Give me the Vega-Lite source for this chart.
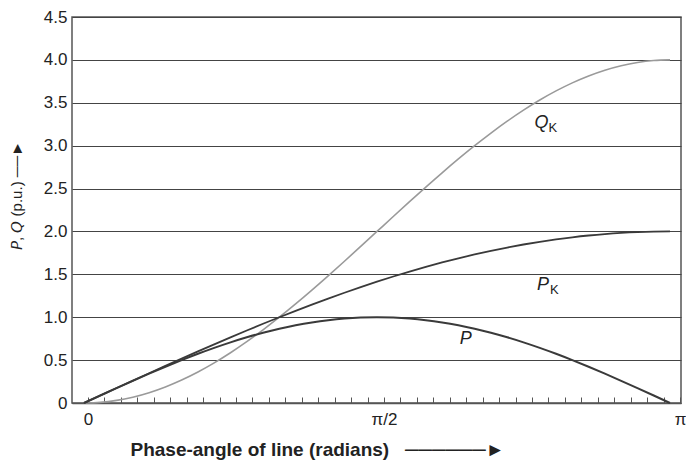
{
  "$schema": "https://vega.github.io/schema/vega-lite/v6.json",
  "width": 609,
  "height": 386,
  "autosize": {"type": "none"},
  "padding": {"left": 72, "top": 17, "right": 5, "bottom": 63},
  "background": "white",
  "config": {
    "view": {"stroke": "#555555", "strokeWidth": 1.5},
    "font": "Liberation Sans",
    "axis": {"labelFont": "Liberation Sans", "titleFont": "Liberation Sans", "labelColor": "#222222", "titleColor": "#222222"}
  },
  "datasets": {
    "curves": [
      {"d": 0, "P": 0, "PK": 0, "QK": 0},
      {"d": 5, "P": 0.0872, "PK": 0.0872, "QK": 0.0076},
      {"d": 10, "P": 0.1736, "PK": 0.1743, "QK": 0.0304},
      {"d": 15, "P": 0.2588, "PK": 0.2611, "QK": 0.0681},
      {"d": 20, "P": 0.342, "PK": 0.3473, "QK": 0.1206},
      {"d": 25, "P": 0.4226, "PK": 0.4329, "QK": 0.1874},
      {"d": 30, "P": 0.5, "PK": 0.5176, "QK": 0.2679},
      {"d": 35, "P": 0.5736, "PK": 0.6014, "QK": 0.3617},
      {"d": 40, "P": 0.6428, "PK": 0.684, "QK": 0.4679},
      {"d": 45, "P": 0.7071, "PK": 0.7654, "QK": 0.5858},
      {"d": 50, "P": 0.766, "PK": 0.8452, "QK": 0.7144},
      {"d": 55, "P": 0.8192, "PK": 0.9235, "QK": 0.8529},
      {"d": 60, "P": 0.866, "PK": 1.0, "QK": 1.0},
      {"d": 65, "P": 0.9063, "PK": 1.0746, "QK": 1.1548},
      {"d": 70, "P": 0.9397, "PK": 1.1472, "QK": 1.316},
      {"d": 75, "P": 0.9659, "PK": 1.2175, "QK": 1.4824},
      {"d": 80, "P": 0.9848, "PK": 1.2856, "QK": 1.6527},
      {"d": 85, "P": 0.9962, "PK": 1.3512, "QK": 1.8257},
      {"d": 90, "P": 1.0, "PK": 1.4142, "QK": 2.0},
      {"d": 95, "P": 0.9962, "PK": 1.4746, "QK": 2.1743},
      {"d": 100, "P": 0.9848, "PK": 1.5321, "QK": 2.3473},
      {"d": 105, "P": 0.9659, "PK": 1.5867, "QK": 2.5176},
      {"d": 110, "P": 0.9397, "PK": 1.6383, "QK": 2.684},
      {"d": 115, "P": 0.9063, "PK": 1.6868, "QK": 2.8452},
      {"d": 120, "P": 0.866, "PK": 1.7321, "QK": 3.0},
      {"d": 125, "P": 0.8192, "PK": 1.774, "QK": 3.1472},
      {"d": 130, "P": 0.766, "PK": 1.8126, "QK": 3.2856},
      {"d": 135, "P": 0.7071, "PK": 1.8478, "QK": 3.4142},
      {"d": 140, "P": 0.6428, "PK": 1.8794, "QK": 3.5321},
      {"d": 145, "P": 0.5736, "PK": 1.9074, "QK": 3.6383},
      {"d": 150, "P": 0.5, "PK": 1.9319, "QK": 3.7321},
      {"d": 155, "P": 0.4226, "PK": 1.9526, "QK": 3.8126},
      {"d": 160, "P": 0.342, "PK": 1.9696, "QK": 3.8794},
      {"d": 165, "P": 0.2588, "PK": 1.9829, "QK": 3.9319},
      {"d": 170, "P": 0.1736, "PK": 1.9924, "QK": 3.9696},
      {"d": 175, "P": 0.0872, "PK": 1.9981, "QK": 3.9924},
      {"d": 180, "P": 0, "PK": 2.0, "QK": 4.0}
    ],
    "labels": [
      {"d": 140.5, "v": 3.27, "main": "Q", "sub": "K"},
      {"d": 141, "v": 1.38, "main": "P", "sub": "K"},
      {"d": 117.3, "v": 0.75, "main": "P", "sub": ""}
    ],
    "ticks": [
      {"d": 0}, {"d": 5}, {"d": 10}, {"d": 15}, {"d": 20}, {"d": 25}, {"d": 30}, {"d": 35}, {"d": 40},
      {"d": 45}, {"d": 50}, {"d": 55}, {"d": 60}, {"d": 65}, {"d": 70}, {"d": 75}, {"d": 80}, {"d": 85},
      {"d": 90}, {"d": 95}, {"d": 100}, {"d": 105}, {"d": 110}, {"d": 115}, {"d": 120}, {"d": 125},
      {"d": 130}, {"d": 135}, {"d": 140}, {"d": 145}, {"d": 150}, {"d": 155}, {"d": 160}, {"d": 165},
      {"d": 170}, {"d": 175}, {"d": 180}
    ]
  },
  "resolve": {"scale": {"x": "independent"}, "axis": {"x": "independent"}},
  "layer": [
    {
      "layer": [
        {
          "data": {"name": "curves"},
          "transform": [{"fold": ["QK", "PK", "P"], "as": ["curve", "value"]}],
          "mark": {"type": "line", "interpolate": "monotone"},
          "encoding": {
            "x": {
              "field": "d", "type": "quantitative",
              "scale": {"domain": [-3.686, 183.38], "nice": false, "zero": false},
              "axis": null
            },
            "y": {
              "field": "value", "type": "quantitative",
              "scale": {"domain": [0, 4.5], "nice": false},
              "axis": {
                "values": [0, 0.5, 1, 1.5, 2, 2.5, 3, 3.5, 4, 4.5],
                "labelExpr": "datum.value == 0 ? '0' : format(datum.value, '.1f')",
                "grid": true,
                "gridColor": "#444444",
                "gridWidth": 1,
                "gridOpacity": 1,
                "ticks": false,
                "domain": false,
                "labelFontSize": 17,
                "labelPadding": 5,
                "title": "𝘗, 𝘘 (p.u.) ──►",
                "titleFontSize": 15,
                "titleFontWeight": "normal",
                "titleAngle": -90,
                "titleAlign": "center",
                "titleBaseline": "middle",
                "titleX": -56,
                "titleY": 178
              }
            },
            "color": {
              "field": "curve", "type": "nominal",
              "scale": {"domain": ["QK", "PK", "P"], "range": ["#9a9a9a", "#3a3a3a", "#3a3a3a"]},
              "legend": null
            },
            "strokeWidth": {
              "field": "curve", "type": "nominal",
              "scale": {"domain": ["QK", "PK", "P"], "range": [1.6, 2, 2]},
              "legend": null
            }
          }
        },
        {
          "data": {"name": "labels"},
          "mark": {"type": "text", "fontSize": 18, "fontStyle": "italic", "font": "Liberation Sans", "color": "#222222", "align": "center", "baseline": "middle"},
          "encoding": {
            "x": {"field": "d", "type": "quantitative", "scale": {"domain": [-3.686, 183.38], "nice": false, "zero": false}, "axis": null},
            "y": {"field": "v", "type": "quantitative"},
            "text": {"field": "main"}
          }
        },
        {
          "data": {"name": "labels"},
          "mark": {"type": "text", "fontSize": 13, "font": "Liberation Sans", "color": "#222222", "align": "left", "baseline": "middle", "dx": 7, "dy": 5},
          "encoding": {
            "x": {"field": "d", "type": "quantitative", "scale": {"domain": [-3.686, 183.38], "nice": false, "zero": false}, "axis": null},
            "y": {"field": "v", "type": "quantitative"},
            "text": {"field": "sub"}
          }
        }
      ]
    },
    {
      "data": {"name": "ticks"},
      "mark": {"type": "rule", "opacity": 0},
      "encoding": {
        "x": {
          "field": "d", "type": "quantitative",
          "scale": {"domain": [-4.865, 180.3], "nice": false, "zero": false},
          "axis": {
            "values": [0,5,10,15,20,25,30,35,40,45,50,55,60,65,70,75,80,85,90,95,100,105,110,115,120,125,130,135,140,145,150,155,160,165,170,175,180],
            "tickCount": 40,
            "labelExpr": "datum.value == 0 ? '0' : datum.value == 90 ? 'π/2' : datum.value == 180 ? 'π' : ''",
            "grid": false,
            "tickSize": -6,
            "tickColor": "#555555",
            "tickWidth": 1,
            "domainColor": "#555555",
            "domainWidth": 1.5,
            "labelFontSize": 17,
            "labelPadding": 14,
            "labelFlush": false,
            "labelOverlap": false,
            "title": "Phase-angle of line (radians)\u00a0\u00a0\u00a0──────►",
            "titleFontSize": 19,
            "titleFontWeight": "bold",
            "titleAnchor": "start",
            "titleAlign": "left",
            "titleX": 58,
            "titleY": 52,
            "titleBaseline": "alphabetic"
          }
        }
      }
    }
  ]
}
